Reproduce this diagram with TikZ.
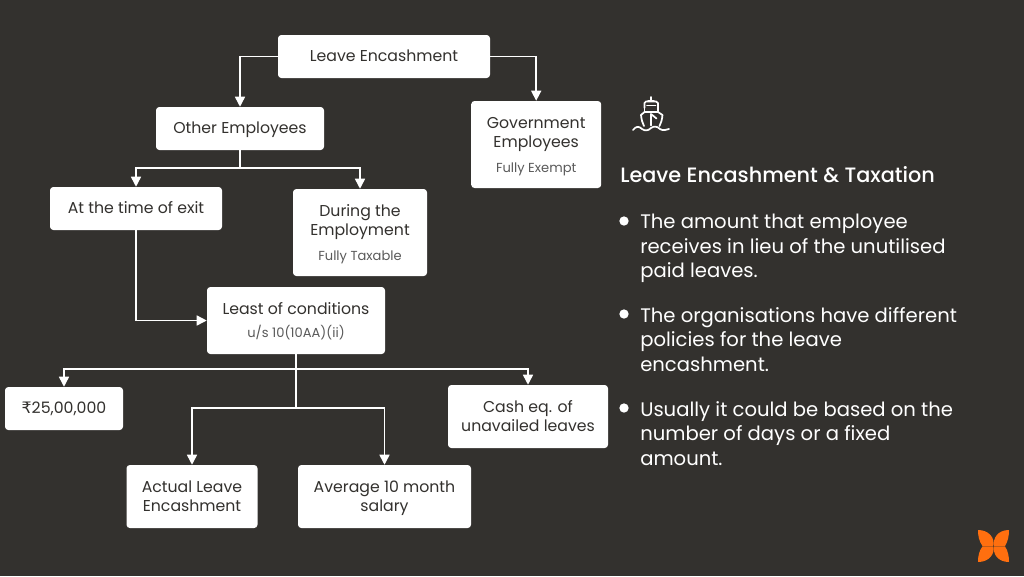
\documentclass[tikz,border=0pt]{standalone}
\usepackage{fontspec}
\setmainfont{Poppins}
\newfontfamily\rupeefont{DejaVu Sans}
\newfontfamily\headfont{Poppins Medium}
\usetikzlibrary{positioning,arrows.meta,calc}
\definecolor{board}{HTML}{33312E}
\definecolor{ink}{HTML}{33312E}
\definecolor{subink}{HTML}{5A5A5A}
\definecolor{petal}{HTML}{FF6F0F}
\tikzset{
    box/.style={fill=white, rounded corners=2.5pt, text=ink, align=center, font=\fontsize{11.8}{14.25}\selectfont, inner sep=0pt, execute at begin node={\rule{0pt}{11.5pt}}, execute at end node={\strut}},
    link/.style={draw=white, line width=1.1pt, -{Triangle[width=7.5pt,length=7.5pt]}},
    stem/.style={draw=white, line width=1.1pt},
    para/.style={text=white, anchor=north west, align=left, inner sep=0pt, font=\fontsize{14.7}{18.35}\selectfont},
    dot/.style={circle, fill=white, inner sep=0pt, minimum size=7pt},
    icon/.style={draw=white, line width=1.3pt, line join=round, line cap=round},
}
\newcommand{\subline}[1]{{\fontsize{9.8}{12}\selectfont\color{subink}#1}}
\newcommand{\toproom}{\rule{0pt}{13.5pt}}
\newcommand{\midroom}{\rule{0pt}{12.5pt}}
\begin{document}
\begin{tikzpicture}[x=0.75pt, y=-0.75pt]
% Background
\fill[board] (0,0) rectangle (1024,576);
\useasboundingbox (0,0) rectangle (1024,576);

% Boxes
\node[box, minimum width=159pt, minimum height=32.25pt] (encash) at (384,56.5) {Leave Encashment};
\node[box, minimum width=126pt, minimum height=32.25pt] (other) at (240,128.5) {Other Employees};
\node[box, minimum width=97.5pt, minimum height=65.25pt] (govt) at (536.2,144.5) {\toproom Government\\Employees\\[4.5pt]\subline{Fully Exempt}};
\node[box, minimum width=129pt, minimum height=32.25pt] (exit) at (136,208.5) {At the time of exit};
\node[box, minimum width=100.5pt, minimum height=65.25pt] (during) at (360,232.5) {\toproom During the\\Employment\\[4.5pt]\subline{Fully Taxable}};
\node[box, minimum width=133.5pt, minimum height=50.25pt] (least) at (296,320.5) {\midroom Least of conditions\\[3pt]\subline{u/s 10(10AA)(ii)}};
\node[box, minimum width=88.5pt, minimum height=32.25pt] (limit) at (64,408.5) {{\rupeefont ₹}25,00,000};
\node[box, minimum width=120pt, minimum height=47.25pt] (cash) at (528,416.5) {\midroom Cash eq. of\\unavailed leaves};
\node[box, minimum width=98.25pt, minimum height=47.25pt] (actual) at (192,496.5) {\midroom Actual Leave\\Encashment};
\node[box, minimum width=129.75pt, minimum height=47.25pt] (average) at (384.5,496.5) {\midroom Average 10 month\\salary};

% Junctions
\coordinate (otherfork) at (240,168);
\coordinate (upperfork) at (296,369);
\coordinate (lowerfork) at (296,408);

% Connectors
\draw[link] (encash.west) -| (other.north);
\draw[link] (encash.east) -| (govt.north);
\draw[stem] (other.south) -- (otherfork);
\draw[link] (otherfork) -| (exit.north);
\draw[link] (otherfork) -| (during.north);
\draw[link] (exit.south) |- (least.west);
\draw[stem] (least.south) -- (lowerfork);
\draw[link] (upperfork) -| (limit.north);
\draw[link] (upperfork) -| (cash.north);
\draw[link] (lowerfork) -| (actual.north);
\draw[link] (lowerfork) -| (average.north);

% Ship icon
\draw[icon] (651,97) -- (651,101);
\draw[icon] (648,101) -- (654,101);
\draw[icon] (644.5,108) -- (644.5,103) -- (646,101.5) -- (656,101.5) -- (658,103) -- (658,108);
\draw[icon] (647,105.5) -- (655.5,105.5);
\draw[icon] (641,115) -- (644.5,112) -- (658,112) -- (662.5,115) .. controls (662,120) and (661,123) .. (659.5,126);
\draw[icon] (641,115) .. controls (641.5,120) and (642.5,123) .. (644,126);
\draw[icon] (644.5,108) -- (644.5,112);
\draw[icon] (658,108) -- (658,112);
\draw[icon] (651,125.5) -- (651,114) -- (656.5,118.5);
\draw[icon] (633,130) .. controls (636,126) and (639,126) .. (642,129) .. controls (645,131) and (648,131) .. (651,128) .. controls (654,126) and (657,126) .. (660,129) .. controls (663,131) and (666,130) .. (669,129);

% Heading and notes
\node[text=white, anchor=base west, inner sep=0pt, font=\fontsize{15.6}{18}\headfont] (title) at (620,182) {Leave Encashment \& Taxation};
\node[dot] (first) at (624,221) {};
\node[para] (firstnote) at (640,214) {The amount that employee\\receives in lieu of the unutilised\\paid leaves.};
\node[dot] (second) at (624,314) {};
\node[para] (secondnote) at (640,307) {The organisations have different\\policies for the leave\\encashment.};
\node[dot] (third) at (624,408) {};
\node[para] (thirdnote) at (640,401) {Usually it could be based on the\\number of days or a fixed\\amount.};

% Logo
\fill[petal] (978,530) .. controls (989,530) and (995,538) .. (993.4,546) -- (986,546) -- (982.5,546) .. controls (979,541) and (978,536) .. (978,530) -- cycle;
\fill[petal] (978,562) .. controls (989,562) and (995,554) .. (993.4,546.4) -- (986,546.4) -- (982.5,546.4) .. controls (979,551) and (978,556) .. (978,562) -- cycle;
\fill[petal] (1009,530) .. controls (998,530) and (992.5,538) .. (994.2,546) -- (1001,546) -- (1005,546) .. controls (1008,541) and (1009,536) .. (1009,530) -- cycle;
\fill[petal] (1009,562) .. controls (998,562) and (992.5,554) .. (994.2,546.4) -- (1001,546.4) -- (1005,546.4) .. controls (1008,551) and (1009,556) .. (1009,562) -- cycle;

\end{tikzpicture}
\end{document}
